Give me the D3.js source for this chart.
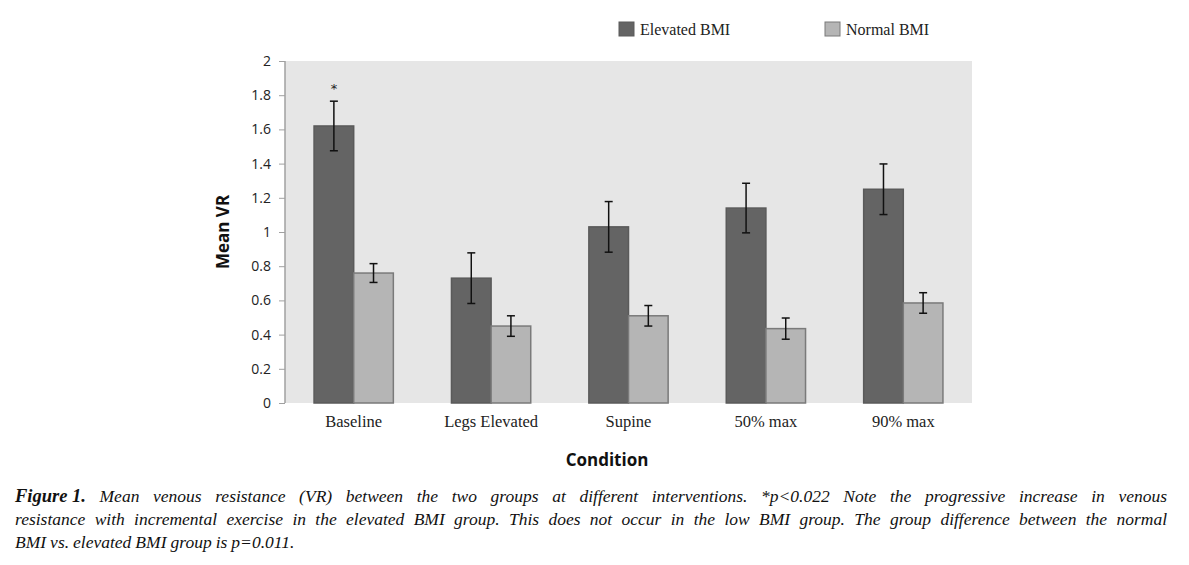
<!DOCTYPE html>
<html><head><meta charset="utf-8">
<script src="https://cdn.jsdelivr.net/npm/d3@7"></script>
<style>body{margin:0;background:#fff}svg{display:block}</style>
</head><body>
<svg id="c" width="1189" height="565"></svg>
<script>
const categories = ["Baseline", "Legs Elevated", "Supine", "50% max", "90% max"];
const seriesNames = ["Elevated BMI", "Normal BMI"];
const elevated = [1.62, 0.73, 1.03, 1.14, 1.25];
const elevatedErr = [0.145, 0.148, 0.148, 0.145, 0.148];
const normal = [0.76, 0.45, 0.51, 0.435, 0.585];
const normalErr = [0.055, 0.06, 0.06, 0.062, 0.06];
const yTicks = [0, 0.2, 0.4, 0.6, 0.8, 1, 1.2, 1.4, 1.6, 1.8, 2];
const significant = [true, false, false, false, false];
const captionLines = [
  "Mean venous resistance (VR) between the two groups at different interventions. *p<0.022 Note the progressive increase in venous",
  "resistance with incremental exercise in the elevated BMI group. This does not occur in the low BMI group. The group difference between the normal",
  "BMI vs. elevated BMI group is p=0.011."
];

const svg = d3.select("#c");
const L = 285, R = 972, T = 61, B = 403;
const x0 = d3.scaleBand().domain(categories).range([L, R]).paddingInner(0.423).paddingOuter(0.2115);
const x1 = d3.scaleBand().domain(seriesNames).range([0, x0.bandwidth()]);
const y = d3.scaleLinear().domain([0, 2]).range([B, T]);
const colors = {"Elevated BMI": "#646464", "Normal BMI": "#b5b5b5"};
const strokes = {"Elevated BMI": "#5a5a5a", "Normal BMI": "#7a7a7a"};

svg.append("rect").attr("x", L).attr("y", T).attr("width", R - L).attr("height", B - T).attr("fill", "#e6e6e6");

const yAxis = svg.append("g").attr("transform", `translate(${L},0)`)
  .call(d3.axisLeft(y).tickValues(yTicks).tickSize(6).tickPadding(8).tickFormat(d => d3.format("")(d)));
yAxis.select(".domain").attr("stroke", "#a0a0a0").attr("stroke-width", 1.5).attr("d", `M0,${T}V${B}`);
yAxis.selectAll(".tick line").attr("stroke", "#a0a0a0");
yAxis.selectAll(".tick text").attr("font-family", "Open Sans, sans-serif").attr("font-size", 14).attr("fill", "#222");

const data = categories.map((c, i) => ({c, vals: [
  {s: "Elevated BMI", v: elevated[i], e: elevatedErr[i]},
  {s: "Normal BMI", v: normal[i], e: normalErr[i]}]}));

const g = svg.selectAll(".grp").data(data).join("g").attr("transform", d => `translate(${x0(d.c)},0)`);
g.selectAll("rect").data(d => d.vals).join("rect")
  .attr("x", d => x1(d.s)).attr("width", x1.bandwidth())
  .attr("y", d => y(d.v)).attr("height", d => y(0) - y(d.v))
  .attr("fill", d => colors[d.s]).attr("stroke", d => strokes[d.s]).attr("stroke-width", 1.5);

const eb = g.selectAll(".err").data(d => d.vals).join("g").attr("class", "err")
  .attr("transform", d => `translate(${x1(d.s) + x1.bandwidth() / 2},0)`);
eb.append("line").attr("y1", d => y(d.v + d.e)).attr("y2", d => y(d.v - d.e)).attr("stroke", "#111").attr("stroke-width", 1.5);
eb.append("line").attr("x1", -4).attr("x2", 4).attr("y1", d => y(d.v + d.e)).attr("y2", d => y(d.v + d.e)).attr("stroke", "#111").attr("stroke-width", 1.5);
eb.append("line").attr("x1", -4).attr("x2", 4).attr("y1", d => y(d.v - d.e)).attr("y2", d => y(d.v - d.e)).attr("stroke", "#111").attr("stroke-width", 1.5);

// significance asterisk
categories.forEach((c, i) => {
  if (significant[i]) {
    svg.append("text").attr("x", x0(c) + x1("Elevated BMI") + x1.bandwidth() / 2)
      .attr("y", y(elevated[i] + elevatedErr[i]) - 8).attr("text-anchor", "middle")
      .attr("font-family", "DejaVu Sans, sans-serif").attr("font-size", 13).attr("fill", "#222").text("*");
  }
});

// x axis labels
svg.append("g").selectAll("text").data(categories).join("text")
  .attr("x", d => x0(d) + x0.bandwidth() / 2).attr("y", 427).attr("text-anchor", "middle")
  .attr("font-family", "Liberation Serif, serif").attr("font-size", 16.5).attr("fill", "#222").text(d => d);

svg.append("text").attr("x", 607).attr("y", 466).attr("text-anchor", "middle")
  .attr("font-family", "Open Sans, sans-serif").attr("font-weight", "bold").attr("font-size", 17).attr("fill", "#111").text("Condition");

svg.append("text").attr("transform", "translate(229,232) rotate(-90)").attr("text-anchor", "middle")
  .attr("font-family", "Open Sans, sans-serif").attr("font-weight", "bold").attr("font-size", 17).attr("fill", "#111").text("Mean VR");

// legend
const legX = [619, 825];
seriesNames.forEach((s, i) => {
  svg.append("rect").attr("x", legX[i]).attr("y", 22).attr("width", 15).attr("height", 14)
    .attr("fill", colors[s]).attr("stroke", strokes[s]).attr("stroke-width", 1);
  svg.append("text").attr("x", legX[i] + 21).attr("y", 35).attr("font-family", "Liberation Serif, serif")
    .attr("font-size", 16).attr("fill", "#222").text(s);
});

// caption (justified)
const capL = 15, capR = 1167;
const capYs = [502, 525, 548];
captionLines.forEach((line, li) => {
  const words = line.split(" ");
  const parts = [];
  if (li === 0) parts.push({t: "Figure 1.", bold: true});
  words.forEach(w => parts.push({t: w, bold: false}));
  const nodes = parts.map(p => svg.append("text").attr("y", capYs[li])
    .attr("font-family", "Liberation Serif, serif").attr("font-style", "italic")
    .attr("font-weight", p.bold ? "bold" : "normal").attr("font-size", p.bold ? 18.5 : 17.5).attr("fill", "#111").text(p.t));
  const widths = nodes.map(n => n.node().getComputedTextLength());
  const total = d3.sum(widths);
  const justify = li < captionLines.length - 1;
  const gap = justify ? (capR - capL - total) / (nodes.length - 1) : 4;
  let cx = capL;
  nodes.forEach((n, k) => { n.attr("x", cx); cx += widths[k] + gap; });
});
</script>
</body></html>
